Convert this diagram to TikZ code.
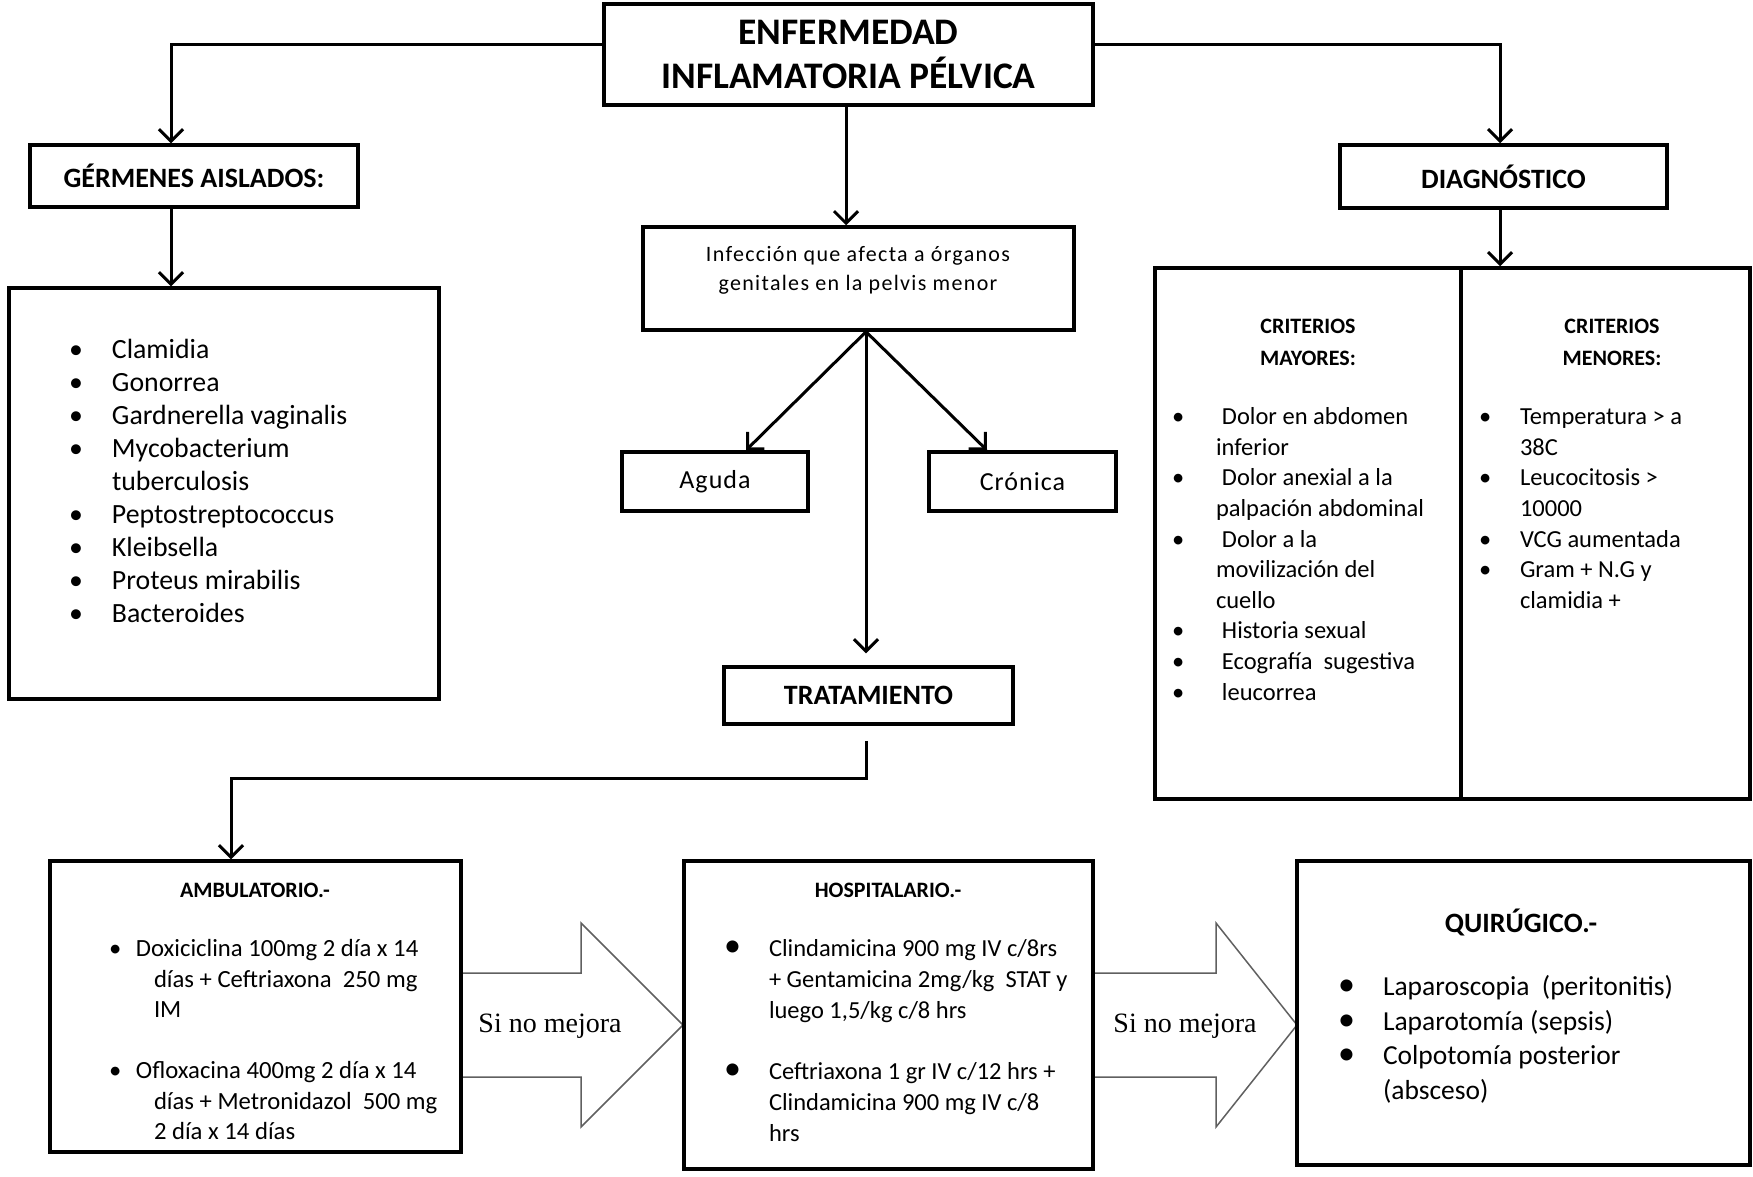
\documentclass[tikz,border=0pt]{standalone}
\usepackage{fontspec}
\setmainfont{Carlito}
\newfontfamily\labelserif{Liberation Serif}
\usetikzlibrary{arrows.meta}
\begin{document}
\begin{tikzpicture}[x=1pt,y=-1pt,
  box/.style={draw=black, line width=3.5pt, fill=white, inner sep=0pt, align=center},
  conn/.style={draw=black, line width=3pt, -{Straight Barb[length=12pt,width=24pt]}},
  bigarrow/.style={draw=gray!75!black, line width=1.5pt, fill=white, line join=miter},
  txt/.style={inner sep=0pt, outer sep=0pt, align=left},
  head/.style={inner sep=0pt, align=center, font=\bfseries\fontsize{22}{32}\selectfont}
]
\fill[white] (0,0) rectangle (1753,1176);
\useasboundingbox (0,0) rectangle (1753,1176);

% block arrows between the treatment boxes
\draw[bigarrow] (461,973) -- (581,973) -- (581,923) -- (683,1025) -- (581,1127) -- (581,1077) -- (461,1077);
\draw[bigarrow] (1093,973) -- (1216,973) -- (1216,923) -- (1297,1025) -- (1216,1127) -- (1216,1077) -- (1093,1077);

% boxes
\node[box, line width=4pt, minimum width=489pt, minimum height=101pt,
      font=\bfseries\fontsize{37.5}{44}\selectfont] (main) at (848.5,54.5) {ENFERMEDAD\\INFLAMATORIA PÉLVICA};
\node[box, minimum width=328pt, minimum height=62pt,
      font=\bfseries\fontsize{28}{30}\selectfont] (germ) at (194,176) {GÉRMENES AISLADOS:};
\node[box, minimum width=430pt, minimum height=411pt] (list) at (224,493.5) {};
\node[box, minimum width=431pt, minimum height=103pt] (inf) at (858.5,278.5) {};
\node[box, minimum width=186pt, minimum height=59pt,
      font=\fontsize{26}{30}\selectfont\addfontfeature{LetterSpace=4}] (aguda) at (715,481.5) {Aguda};
\node[box, minimum width=187pt, minimum height=59pt,
      font=\fontsize{26}{30}\selectfont\addfontfeature{LetterSpace=4}] (cronica) at (1022.5,481.5) {Crónica};
\node[box, minimum width=289pt, minimum height=57pt,
      font=\bfseries\fontsize{28}{30}\selectfont] (trat) at (868.5,695.5) {TRATAMIENTO};
\node[box, minimum width=327pt, minimum height=63pt,
      font=\bfseries\fontsize{28}{30}\selectfont] (diag) at (1503.5,176.5) {DIAGNÓSTICO};
\node[box, minimum width=306pt, minimum height=531pt] (critL) at (1308,533.5) {};
\node[box, minimum width=289pt, minimum height=531pt] (critR) at (1605.5,533.5) {};
\node[box, minimum width=411pt, minimum height=291pt] (amb) at (255.5,1006.5) {};
\node[box, minimum width=409pt, minimum height=308pt] (hosp) at (888.5,1015) {};
\node[box, minimum width=453pt, minimum height=304pt] (quir) at (1523.5,1013) {};

% connectors
\draw[conn] ([yshift=10.5pt]main.west) -| ([xshift=-23pt]germ.north);
\draw[conn] ([xshift=-23pt]germ.south) -- ([xshift=-23pt]germ.south |- list.north);
\draw[conn] ([xshift=-2.5pt]main.south) -- ([xshift=-2.5pt]main.south |- inf.north);
\draw[conn] ([yshift=10.5pt]main.east) -| ([xshift=-3.5pt]diag.north);
\draw[conn] ([xshift=-3.5pt]diag.south) -- ([xshift=-3.5pt]diag.south |- critR.north);
\draw[conn] ([xshift=7.5pt]inf.south) -- ([xshift=31pt]aguda.north);
\draw[conn] ([xshift=7.5pt]inf.south) -- ([xshift=-35.5pt]cronica.north);
\draw[conn] ([xshift=7.5pt]inf.south) -- ([xshift=-2.5pt,yshift=12pt]trat.north);
\draw[conn] ([xshift=-2.5pt,yshift=-15pt]trat.south) -- ++(0,38) -| ([xshift=-24.5pt]amb.north);

% texts
\node[txt, align=center, font=\fontsize{22}{29}\selectfont\addfontfeature{LetterSpace=6}] (inftext) at (858,270)
  {Infección que afecta a órganos\\genitales en la pelvis menor};

\node[txt, anchor=base west, font=\fontsize{27.8}{33}\selectfont] (germlist) at (69,358) {%
\begin{tabular}[t]{@{}p{43pt}@{}l@{}}
• & Clamidia\\
• & Gonorrea\\
• & Gardnerella vaginalis\\
• & Mycobacterium\\
  & tuberculosis\\
• & Peptostreptococcus\\
• & Kleibsella\\
• & Proteus mirabilis\\
• & Bacteroides
\end{tabular}};

\node[head] (majhead) at (1308,342) {CRITERIOS\\MAYORES:};
\node[head] (minhead) at (1612,342) {CRITERIOS\\MENORES:};

\node[txt, anchor=base west, font=\fontsize{24.5}{30.6}\selectfont] (majlist) at (1172,424.6) {%
\begin{tabular}[t]{@{}p{44pt}@{}l@{}}
• & \hspace{6pt}Dolor en abdomen\\
  & inferior\\
• & \hspace{6pt}Dolor anexial a la\\
  & palpación abdominal\\
• & \hspace{6pt}Dolor a la\\
  & movilización del\\
  & cuello\\
• & \hspace{6pt}Historia sexual\\
• & \hspace{6pt}Ecografía \ sugestiva\\
• & \hspace{6pt}leucorrea
\end{tabular}};

\node[txt, anchor=base west, font=\fontsize{24.5}{30.6}\selectfont] (minlist) at (1479,424.6) {%
\begin{tabular}[t]{@{}p{41pt}@{}l@{}}
• & Temperatura > a\\
  & 38C\\
• & Leucocitosis >\\
  & 10000\\
• & VCG aumentada\\
• & Gram + N.G y\\
  & clamidia +
\end{tabular}};

\node[txt, font=\bfseries\fontsize{22}{26}\selectfont] (ambtitle) at (255,890) {AMBULATORIO.-};
\node[txt, anchor=base west, font=\fontsize{24.7}{30.5}\selectfont] (amblist) at (109,956.6) {%
\begin{tabular}[t]{@{}p{27pt}@{}l@{}}
• & Doxiciclina 100mg 2 día x 14\\
  & \hspace{18pt}días + Ceftriaxona \ 250 mg\\
  & \hspace{18pt}IM\\
  & \\
• & Ofloxacina 400mg 2 día x 14\\
  & \hspace{18pt}días + Metronidazol \ 500 mg\\
  & \hspace{18pt}2 día x 14 días
\end{tabular}};

\node[txt, font=\bfseries\fontsize{22}{26}\selectfont] (hosptitle) at (888,890) {HOSPITALARIO.-};
\node[txt, anchor=base west, font=\fontsize{24.5}{30.8}\selectfont] (hosplist) at (724,956.6) {%
\begin{tabular}[t]{@{}p{45pt}@{}l@{}}
{\fontsize{34}{30}\selectfont •} & Clindamicina 900 mg IV c/8rs\\
  & + Gentamicina 2mg/kg \ STAT y\\
  & luego 1,5/kg c/8 hrs\\
  & \\
{\fontsize{34}{30}\selectfont •} & Ceftriaxona 1 gr IV c/12 hrs +\\
  & Clindamicina 900 mg IV c/8\\
  & hrs
\end{tabular}};

\node[txt, font=\bfseries\fontsize{28}{32}\selectfont] (quirtitle) at (1521,922) {QUIRÚGICO.-};
\node[txt, anchor=base west, font=\fontsize{27.5}{34.7}\selectfont] (quirlist) at (1338,995.4) {%
\begin{tabular}[t]{@{}p{45pt}@{}l@{}}
{\fontsize{34}{30}\selectfont •} & Laparoscopia \ (peritonitis)\\
{\fontsize{34}{30}\selectfont •} & Laparotomía (sepsis)\\
{\fontsize{34}{30}\selectfont •} & Colpotomía posterior\\
  & (absceso)
\end{tabular}};

\node[txt, font=\labelserif\fontsize{28}{30}\selectfont] (better1) at (550,1026) {Si no mejora};
\node[txt, font=\labelserif\fontsize{28}{30}\selectfont] (better2) at (1185,1026) {Si no mejora};
\end{tikzpicture}
\end{document}
